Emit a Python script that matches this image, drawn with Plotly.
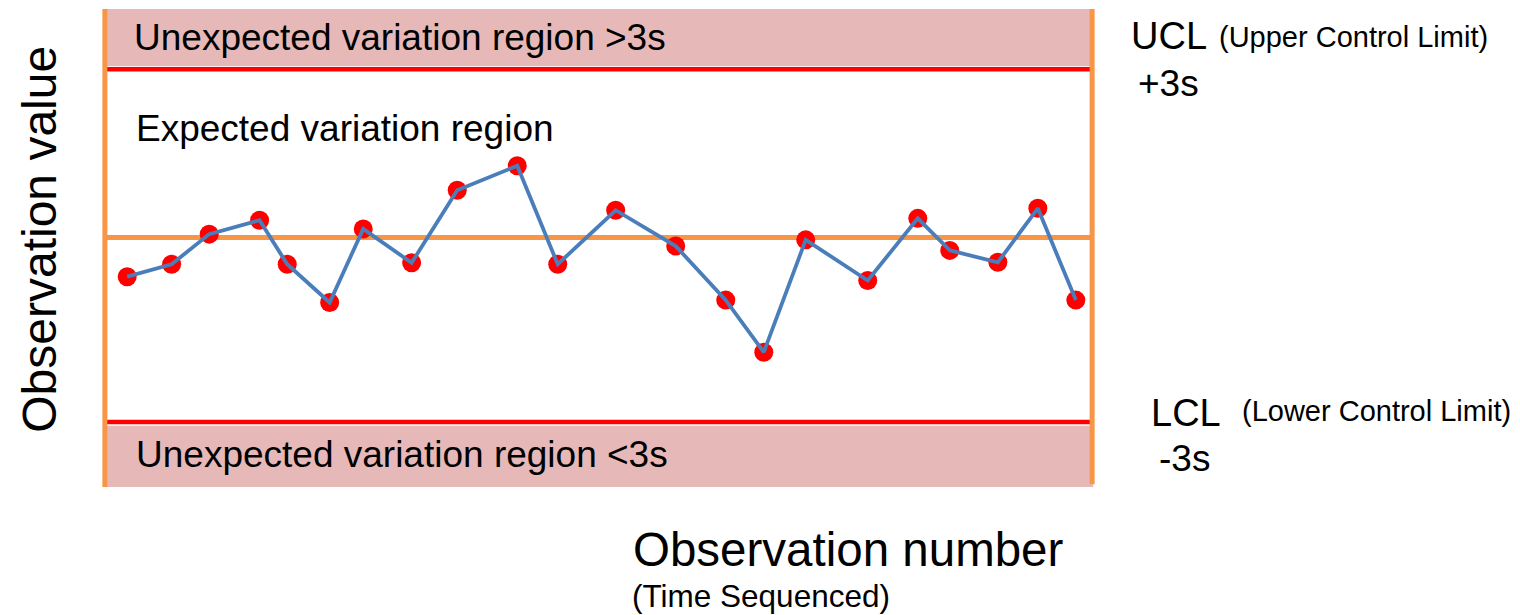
import plotly.graph_objects as go

# ---- data ----
obs_x = [2.26, 6.76, 10.57, 15.67, 18.47, 22.77, 26.17, 31.07, 35.69, 41.77, 45.87,
         51.74, 57.82, 62.89, 66.74, 70.99, 77.27, 82.34, 85.58, 90.45, 94.50, 98.35]
obs_y = [44.0, 46.6, 52.9, 55.8, 46.6, 38.6, 54.0, 46.9, 62.1, 67.2, 46.6,
         57.9, 50.4, 39.1, 28.2, 51.7, 43.2, 56.2, 49.5, 47.0, 58.3, 39.1]
center_line = 52.2
ucl = 87.4
lcl = 13.6
y_top = 100.0
y_bottom = 0.0
x_left = 0.0
x_right = 100.0
x_pad = 1.0

FONT = "Liberation Sans, Arial, sans-serif"
PINK = "#E6B9B8"
RED = "#FF0000"
ORANGE = "#F79646"
BLUE = "#4A7EBB"

fig = go.Figure()

fig.add_trace(go.Scatter(
    x=obs_x, y=obs_y, mode="markers",
    marker=dict(color=RED, size=19, line=dict(width=0)), showlegend=False))
fig.add_trace(go.Scatter(
    x=obs_x, y=obs_y, mode="lines",
    line=dict(color=BLUE, width=3.8), hoverinfo="skip", showlegend=False))

shapes = [
    # top unexpected band
    dict(type="rect", xref="x", yref="y", x0=x_left, x1=x_right, y0=ucl + 0.6, y1=y_top,
         fillcolor=PINK, line=dict(width=0), layer="below"),
    # bottom unexpected band
    dict(type="rect", xref="x", yref="y", x0=x_left, x1=x_right + 0.1, y0=y_bottom, y1=lcl - 0.8,
         fillcolor=PINK, line=dict(width=0), layer="below"),
    # UCL / LCL
    dict(type="line", xref="x", yref="y", x0=x_left, x1=x_right, y0=ucl, y1=ucl,
         line=dict(color=RED, width=4.5), layer="below"),
    dict(type="line", xref="x", yref="y", x0=x_left, x1=x_right, y0=lcl, y1=lcl,
         line=dict(color=RED, width=4.5), layer="below"),
    # center line
    dict(type="line", xref="x", yref="y", x0=x_left, x1=x_right, y0=center_line, y1=center_line,
         line=dict(color=ORANGE, width=5), layer="below"),
    # vertical borders
    dict(type="line", xref="x", yref="y", x0=x_left, x1=x_left, y0=y_bottom, y1=y_top,
         line=dict(color=ORANGE, width=5), layer="below"),
    dict(type="line", xref="x", yref="y", x0=x_right, x1=x_right, y0=y_bottom + 0.6, y1=y_top + 0.2,
         line=dict(color=ORANGE, width=5), layer="below"),
]

# annotation x positions are given relative to the 0..100 data span (px 105..1092 on the page)
SPAN_L, SPAN_W = 9.87, 987.0  # paper offset of x=0 inside the padded plot, width of the 0..100 span
PLOT_W = 1007.0


def px_to_paper(p):
    # p: paper coordinate relative to the 0..100 span -> paper coordinate of the padded plot
    return (SPAN_L + p * SPAN_W) / PLOT_W


def ann(text, x, y, size, xanchor="left", yanchor="middle", angle=0):
    return dict(text=text, x=px_to_paper(x), y=y, xref="paper", yref="paper", showarrow=False,
                xanchor=xanchor, yanchor=yanchor, textangle=angle,
                font=dict(family=FONT, size=size, color="black"))


annotations = [
    ann("Unexpected variation region >3s", 0.0274, 0.941, 37),
    ann("Expected variation region", 0.0299, 0.751, 37),
    ann("Unexpected variation region <3s", 0.0295, 0.068, 37),
    ann("UCL", 1.0375, 0.943, 38),
    ann("(Upper Control Limit)", 1.1266, 0.941, 29),
    ann("+3s", 1.0446, 0.845, 37),
    ann("LCL", 1.0578, 0.154, 38),
    ann("(Lower Control Limit)", 1.150, 0.159, 29),
    ann("-3s", 1.066, 0.0595, 37),
    ann("Observation number", 0.533, -0.13, 47.5),
    ann("(Time Sequenced)", 0.532, -0.228, 31.5),
    ann("Observation value", -0.0659, 0.519, 48, xanchor="center", angle=-90),
]

# the page body has an 8px margin, so the figure is sized to end at the window edge
fig.update_layout(
    width=1512, height=607,
    margin=dict(l=87, r=418, t=1, b=128),
    paper_bgcolor="white", plot_bgcolor="white",
    shapes=shapes, annotations=annotations,
    xaxis=dict(range=[x_left - x_pad, x_right + x_pad], visible=False, fixedrange=True),
    yaxis=dict(range=[y_bottom, y_top], visible=False, fixedrange=True),
    showlegend=False,
)

fig.write_html("out.html")
